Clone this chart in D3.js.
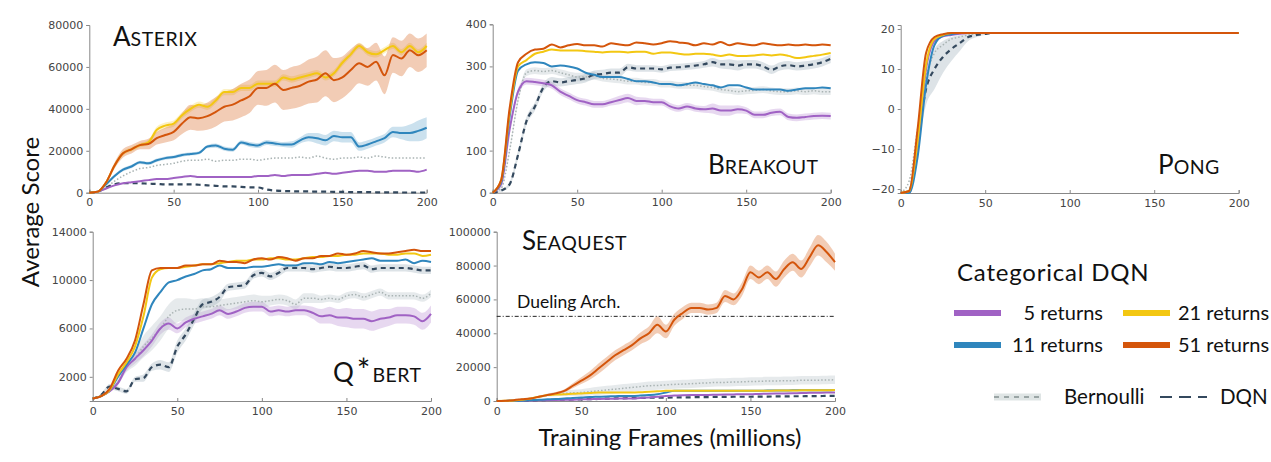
<!DOCTYPE html>
<html>
<head>
<meta charset="utf-8">
<script src="https://cdn.jsdelivr.net/npm/d3@7"></script>
<style>
  body { margin: 0; background: #fff; }
  svg { display: block; }
  .tick text { font-family: "DejaVu Sans", sans-serif; font-size: 11px; fill: #444; }
  .domain, .tick line { stroke: #888; }
  .big { font-family: Lato, "Open Sans", sans-serif; fill: #111; }
</style>
</head>
<body>
<svg id="chart" width="1271" height="462"></svg>
<script>
// training frames (millions), one sample every 5M
const frames = [0,5,10,15,20,25,30,35,40,45,50,55,60,65,70,75,80,85,90,95,100,105,110,115,120,125,130,135,140,145,150,155,160,165,170,175,180,185,190,195,200];
const xTicks = [0,50,100,150,200];

// ASTERIX
const asterix5 = [0,500,2000,3500,4500,5000,5500,6000,6500,6500,7000,7500,8000,7500,7500,7500,7500,7500,7500,7500,8000,8000,8500,8000,8500,8500,8500,9000,9500,9000,9500,10000,10500,10500,10000,10000,10500,10500,10500,10000,11000];
const asterix11 = [0,500,4000,8000,11000,12500,14500,14000,15500,16500,17000,18000,18500,19000,22000,22500,21000,20500,24000,23000,22500,24000,23500,23000,23000,25000,26500,26000,25000,27000,26500,26500,22000,23000,24500,26000,29000,28500,28500,29500,31000];
const asterix21 = [0,500,5000,13000,18800,20700,22700,24000,30000,32000,33000,37000,40000,42000,41000,44000,48000,48000,50000,50000,52000,52000,52000,55000,54000,55000,56000,57000,55000,57000,62000,66000,70000,67000,66000,68000,70000,67000,70000,67000,70000];
const asterix51 = [0,500,5000,13000,18800,20700,22700,23200,26000,27500,29000,33000,36000,35500,36500,38600,41000,42000,44000,46000,50000,50000,52000,49000,50000,51000,53000,54000,57000,53700,55000,58500,61700,60000,62500,56000,65700,64000,68000,65600,68000];
const asterixBern = [0,300,2500,5500,8000,10000,11500,12000,13000,13500,14000,15000,15500,15500,16000,15000,15500,15500,16000,16000,15500,16000,16500,16500,16500,17000,16500,17500,16500,16000,16500,16500,17000,16500,17500,17000,16500,16500,16500,16500,16500];
const asterixDqn = [0,500,2500,4000,4500,4500,4500,4300,4200,4000,4000,4000,4000,3800,3500,3300,3000,3000,2800,2500,2500,1500,1000,800,700,600,600,500,500,400,400,300,300,300,200,200,200,100,100,100,100];
const asterix11Band = [0,200,500,800,800,800,800,800,800,800,800,800,800,800,800,1000,1000,1000,1000,1200,1200,1200,1200,1200,1500,1500,2000,2500,2500,2500,2500,2500,2000,2000,2000,2000,2500,3000,4000,5000,5000];
const asterix21Band = [0,200,500,800,1000,1000,1000,1200,1500,1500,1500,1500,1500,1500,1500,1500,1500,1500,1500,1500,1500,1500,1500,1500,1500,1500,1500,1500,1500,1500,1500,1500,1500,1500,1500,1500,1500,1500,1500,1500,1500];
const asterix51Band = [0,300,800,1500,2000,2000,2000,2500,3000,3500,4000,5000,6000,6000,6500,7000,7000,7500,8000,8000,8000,8500,9000,9500,10000,10000,10500,11000,11000,10500,10000,10000,9500,9000,9000,9000,8500,8500,8000,8000,8000];

// BREAKOUT
const breakout5 = [0,20,150,240,265,263,260,255,240,230,220,215,210,210,215,220,225,218,218,215,215,205,200,205,200,198,200,195,195,198,195,185,185,190,192,180,178,180,182,183,182];
const breakout11 = [0,25,180,290,305,310,308,300,302,300,295,285,280,275,275,275,270,265,265,262,258,258,255,258,262,258,255,250,255,255,250,245,245,245,245,242,245,248,248,250,248];
const breakout21 = [0,30,190,300,315,330,335,340,338,338,338,336,335,333,335,335,333,335,335,330,333,333,330,328,330,330,328,325,328,325,325,326,328,326,328,325,320,322,325,328,332];
const breakout51 = [0,30,200,310,330,340,342,352,345,350,353,350,350,347,355,352,350,357,355,352,355,360,357,355,350,355,352,358,350,355,352,350,355,352,350,352,350,352,350,352,350];
const breakoutBern = [0,10,100,220,285,290,288,290,285,280,275,275,278,272,270,268,265,265,262,262,258,258,255,255,255,252,250,245,243,240,242,243,245,242,240,240,242,240,242,240,240];
const breakoutDqn = [0,5,20,90,170,205,250,265,262,265,268,272,280,282,285,285,298,295,295,295,293,297,298,300,302,305,310,305,305,302,305,305,300,292,300,303,300,302,305,310,318];
const breakout5Band = [0,2,5,8,8,8,8,8,8,8,8,8,8,8,8,10,10,10,8,8,8,8,8,8,8,8,12,12,12,10,8,8,8,8,8,8,8,8,8,8,8];
const breakoutBernBand = [0,2,5,8,8,8,8,8,8,8,10,10,10,8,8,8,8,8,8,8,8,8,8,8,8,8,8,8,8,8,8,8,8,8,8,8,8,8,8,8,8];
const breakoutDqnBand = [0,2,5,10,10,10,10,10,10,10,10,10,10,10,10,10,8,8,8,8,8,8,8,8,8,8,10,10,12,12,10,10,10,10,10,10,10,10,10,10,10];

// PONG
const pong5 = [-21,-21,-9,10,17,18.2,18.5,18.8,19,19,19,19,19,19,19,19,19,19,19,19,19,19,19,19,19,19,19,19,19,19,19,19,19,19,19,19,19,19,19,19,19];
const pong11 = [-21,-21,-12,6,16,18.3,18.7,19,19,19,19,19,19,19,19,19,19,19,19,19,19,19,19,19,19,19,19,19,19,19,19,19,19,19,19,19,19,19,19,19,19];
const pong21 = [-21,-20.5,-8,11,17.5,18.5,19,19,19,19,19,19,19,19,19,19,19,19,19,19,19,19,19,19,19,19,19,19,19,19,19,19,19,19,19,19,19,19,19,19,19];
const pong51 = [-21,-20.5,-5,14,18,18.7,19,19,19,19,19,19,19,19,19,19,19,19,19,19,19,19,19,19,19,19,19,19,19,19,19,19,19,19,19,19,19,19,19,19,19];
const pongBern = [-21,-18,-5,8,14,16,17.5,18,18.5,18.8,19,19,19,19,19,19,19,19,19,19,19,19,19,19,19,19,19,19,19,19,19,19,19,19,19,19,19,19,19,19,19];
const pongDqn = [-21,-20.5,-8,5,10,13,15,16.5,18,18.5,18.8,19,19,19,19,19,19,19,19,19,19,19,19,19,19,19,19,19,19,19,19,19,19,19,19,19,19,19,19,19,19];
const pongDqnBand = [0,0.3,2,4,5,4,3,2,1,0.5,0.3,0.2,0.2,0.2,0.2,0.2,0.2,0.2,0.2,0.2,0.2,0.2,0.2,0.2,0.2,0.2,0.2,0.2,0.2,0.2,0.2,0.2,0.2,0.2,0.2,0.2,0.2,0.2,0.2,0.2,0.2];

// Q*BERT
const qbert5 = [200,400,800,1500,2800,3500,4200,5000,6000,6400,6000,6500,6800,7000,7200,7500,7200,7400,7700,7800,7800,7400,7500,7400,7500,7500,7300,7000,7100,6900,6900,6800,6800,6600,6800,6900,7100,7100,7000,6600,7200];
const qbert11 = [200,400,900,2000,3000,4000,6000,8000,9000,9800,10000,10300,10500,10800,10900,11200,11000,11000,11000,11100,11100,11200,11300,11200,11200,11400,11400,11300,11500,11400,11500,11600,11700,11800,11600,11600,11600,11700,11400,11600,11500];
const qbert21 = [200,400,900,2200,3200,4500,7000,10200,10900,11000,11000,11100,11200,11300,11300,11400,11500,11600,11600,11700,11700,11800,11800,11700,11700,11800,11900,11900,12000,12000,12100,12100,12200,12200,12200,12100,12100,12200,12200,12000,12100];
const qbert51 = [200,400,1000,2500,3500,5000,8000,10800,11000,11000,11000,11200,11200,11300,11300,11600,11500,11500,11400,11700,11800,11700,11900,11800,11600,11800,11800,12000,12000,12200,12100,12200,12400,12300,12200,12200,12300,12400,12500,12400,12400];
const qbertBern = [200,400,800,1600,2800,3500,4500,5200,6000,7000,7500,7600,7600,7800,7800,7900,8000,8100,8200,8300,8200,8300,8400,8300,8000,8500,8500,8400,8500,8400,8700,8800,8600,8800,9000,8700,8700,8700,8700,8500,8900];
const qbertDqn = [200,500,1200,1000,800,1800,1900,2800,3000,2800,4500,5500,6800,8000,8200,8600,9400,9500,9600,10400,10600,10300,10600,11000,11000,11000,10900,11000,11100,11000,11000,11100,11200,10900,11000,11000,11000,11000,10900,10800,10800];
const qbert5Band = [0,50,100,200,300,400,500,500,500,500,400,400,400,400,400,400,400,400,400,400,400,400,400,400,400,400,500,600,700,700,800,800,800,800,800,700,700,700,700,700,700];
const qbertBernBand = [0,50,100,200,400,600,900,1000,1000,1000,1000,900,800,700,600,500,500,500,500,500,500,400,400,400,400,400,400,300,300,300,300,300,300,300,300,300,300,300,300,300,300];
const qbertDqnBand = [0,100,200,200,200,200,300,300,400,400,500,500,500,400,400,400,300,300,300,300,300,300,300,300,300,300,300,300,300,300,300,300,300,300,300,300,300,300,300,300,300];

// SEAQUEST
const seaquest5 = [0,50,100,200,300,400,500,600,700,800,1000,1100,1200,1300,1400,1500,1500,1800,2000,2500,3000,3200,3400,3500,3500,3600,3700,3800,3900,4000,4000,4200,4300,4400,4500,4600,4700,4800,4900,5000,5000];
const seaquest11 = [0,50,100,200,500,800,1000,1200,1500,1800,2000,2300,2500,2700,2800,3000,3000,3200,3500,4000,5000,6000,6000,6000,6000,6000,6000,6000,6000,6000,6000,6000,6200,6200,6200,6300,6300,6300,6400,6400,6500];
const seaquest21 = [0,100,300,700,1500,2500,3500,3800,4000,4300,4500,4700,5000,5000,5000,5000,5000,5200,5500,5700,6000,6000,6000,6000,6000,6000,6000,6000,6000,6000,6000,6000,6000,6200,6200,6200,6300,6300,6400,6400,6500];
const seaquest51 = [0,200,500,1000,1500,2500,3500,4500,6000,9000,12000,15000,19000,23000,27000,30000,33000,37000,40000,45000,41000,48000,52000,55000,55000,54000,55000,62000,60000,66000,76000,73000,76000,72000,78000,82000,78000,85000,92000,88000,82000];
const seaquestBern = [0,200,500,1000,1500,2500,3500,4000,4500,4800,5000,5500,6000,6500,7000,7500,8000,8500,9000,9200,9500,9800,10000,10200,10500,10700,11000,11000,11200,11300,11500,11600,11800,11800,12000,12000,12200,12200,12300,12400,12500];
const seaquestDqn = [0,0,100,200,300,500,600,700,800,900,1000,1100,1200,1400,1500,1600,1700,1800,1900,2000,2000,2100,2200,2200,2300,2300,2400,2400,2500,2500,2500,2600,2600,2700,2700,2800,2800,2900,2900,3000,3000];
const seaquest51Band = [0,100,200,300,400,500,600,800,1000,1500,2000,2500,3000,3000,3000,3000,3000,3500,4000,5000,4000,3500,3500,3000,3000,3000,3000,3500,3500,4000,4000,4000,4000,4500,5000,5000,5000,5500,6000,6000,5000];
const seaquestBernBand = [0,100,200,400,600,800,1000,1200,1500,1800,2000,2200,2400,2500,2500,2500,2500,2500,2500,2500,2500,2500,2500,2500,2500,2500,2500,2500,2500,2500,2500,2500,2500,2500,2500,2500,2500,2500,2500,2500,2500];
const duelingScore = 50000;

// legend
const returnLabels = ["5 returns", "11 returns", "21 returns", "51 returns"];

const colors = {c5: "#a062c4", c11: "#2f86bd", c21: "#f3c712", c51: "#d4550b", bern: "#a9b3b3", dqn: "#34495e"};

const svg = d3.select("#chart");

const panels = [
  {name: "asterix", x: [89.3, 426.7], y: [192.7, 25], dom: [0, 80000], ticks: [0,20000,40000,60000,80000],
   s: {c5: asterix5, c11: asterix11, c21: asterix21, c51: asterix51, bern: asterixBern, dqn: asterixDqn},
   b: {c11: asterix11Band, c21: asterix21Band, c51: asterix51Band},
   title: {x: 113, y: 46, big: "A", small: "STERIX"}},
  {name: "breakout", x: [492.7, 830.7], y: [192.7, 24.3], dom: [0, 400], ticks: [0,100,200,300,400],
   s: {c5: breakout5, c11: breakout11, c21: breakout21, c51: breakout51, bern: breakoutBern, dqn: breakoutDqn},
   b: {c5: breakout5Band, bern: breakoutBernBand, dqn: breakoutDqnBand},
   title: {x: 708, y: 174, big: "B", small: "REAKOUT"}},
  {name: "pong", x: [900.7, 1238.7], y: [193, 25], dom: [-21, 21], ticks: [-20,-10,0,10,20],
   s: {c5: pong5, c11: pong11, c21: pong21, c51: pong51, bern: pongBern, dqn: pongDqn},
   b: {dqn: pongDqnBand},
   title: {x: 1158, y: 174, big: "P", small: "ONG"}},
  {name: "qbert", x: [92.7, 431], y: [401, 231.7], dom: [0, 14000], ticks: [2000,6000,10000,14000],
   s: {c5: qbert5, c11: qbert11, c21: qbert21, c51: qbert51, bern: qbertBern, dqn: qbertDqn},
   b: {c5: qbert5Band, bern: qbertBernBand, dqn: qbertDqnBand},
   title: {x: 333, y: 382, big: "Q", star: true, small: "BERT"}},
  {name: "seaquest", x: [496.7, 835], y: [401, 231.7], dom: [0, 100000], ticks: [0,20000,40000,60000,80000,100000],
   s: {c5: seaquest5, c11: seaquest11, c21: seaquest21, c51: seaquest51, bern: seaquestBern, dqn: seaquestDqn},
   b: {c51: seaquest51Band, bern: seaquestBernBand},
   title: {x: 522, y: 250, big: "S", small: "EAQUEST"}, dueling: duelingScore}
];

const order = ["bern", "dqn", "c5", "c11", "c21", "c51"];
const bandOpacity = {c5: 0.25, c11: 0.25, c21: 0.25, c51: 0.3, bern: 0.35, dqn: 0.35};
const bandColor = {bern: "#b8c4c8", dqn: "#9fb0ba"};

panels.forEach(p => {
  const x = d3.scaleLinear().domain([0, 200]).range(p.x);
  const y = d3.scaleLinear().domain(p.dom).range(p.y);
  const g = svg.append("g").attr("class", p.name);

  // shaded bands
  Object.keys(p.b).forEach(k => {
    const vals = p.s[k], band = p.b[k];
    const area = d3.area()
      .x((d, i) => x(frames[i]))
      .y0((d, i) => y(vals[i] - band[i]))
      .y1((d, i) => y(vals[i] + band[i]))
      .curve(d3.curveMonotoneX);
    g.append("path")
      .attr("d", area(vals))
      .attr("fill", bandColor[k] || colors[k])
      .attr("fill-opacity", bandOpacity[k]);
  });

  // axes
  g.append("g")
    .attr("transform", `translate(${p.x[0]},0)`)
    .call(d3.axisLeft(y).tickValues(p.ticks).tickSize(3).tickPadding(3).tickFormat(d => d < 0 ? "\u2212" + Math.abs(d) : d));
  g.append("g")
    .attr("transform", `translate(0,${p.y[0]})`)
    .call(d3.axisBottom(x).tickValues(xTicks).tickSize(-3).tickPadding(6));

  if (p.dueling) {
    g.append("line")
      .attr("x1", x(0)).attr("x2", x(200))
      .attr("y1", y(p.dueling)).attr("y2", y(p.dueling))
      .attr("stroke", "#222").attr("stroke-width", 1)
      .attr("stroke-dasharray", "4,2,1,2");
    g.append("text").attr("class", "big")
      .attr("x", 517).attr("y", y(p.dueling) - 8)
      .attr("font-size", 17.5)
      .text("Dueling Arch.");
  }

  // lines
  order.forEach(k => {
    const line = d3.line()
      .x((d, i) => x(frames[i]))
      .y(d => y(d))
      .curve(d3.curveMonotoneX);
    const path = g.append("path")
      .attr("d", line(p.s[k]))
      .attr("fill", "none")
      .attr("stroke", colors[k]);
    if (k === "bern") path.attr("stroke-width", 1.5).attr("stroke-dasharray", "1.5,2");
    else if (k === "dqn") path.attr("stroke-width", 2.2).attr("stroke-dasharray", "5,4");
    else path.attr("stroke-width", 2);
  });

  // game title in small caps
  const t = svg.append("text").attr("class", "big")
    .attr("x", p.title.x).attr("y", p.title.y);
  t.append("tspan").attr("font-size", 26).text(p.title.big);
  if (p.title.star) t.append("tspan").attr("font-size", 32).attr("dy", 0).attr("dx", 3).text("*");
  t.append("tspan").attr("font-size", 19.5).attr("letter-spacing", 0.5)
    .attr("dy", 0).attr("dx", p.title.star ? 2 : 0).text(p.title.small);
});

// shared axis labels
svg.append("text").attr("class", "big")
  .attr("transform", "translate(39,212) rotate(-90)")
  .attr("text-anchor", "middle").attr("font-size", 24)
  .text("Average Score");
svg.append("text").attr("class", "big")
  .attr("x", 670).attr("y", 446)
  .attr("text-anchor", "middle").attr("font-size", 24)
  .text("Training Frames (millions)");

// legend
const legend = svg.append("g").attr("class", "legend");
legend.append("text").attr("class", "big")
  .attr("x", 957).attr("y", 281).attr("font-size", 24).attr("letter-spacing", 0.8)
  .text("Categorical DQN");

const legendKeys = ["c5", "c11", "c21", "c51"];
const items = legend.selectAll(".item")
  .data(legendKeys)
  .enter().append("g")
  .attr("transform", (d, i) => `translate(${i < 2 ? 954 : 1123},${i % 2 === 0 ? 313 : 345})`);
items.append("line")
  .attr("x1", 0).attr("x2", 47)
  .attr("stroke", d => colors[d]).attr("stroke-width", 6);
items.append("text").attr("class", "big")
  .attr("x", (d, i) => i < 2 ? 149 : 55).attr("y", 7)
  .attr("text-anchor", (d, i) => i < 2 ? "end" : "start")
  .attr("font-size", 20)
  .text((d, i) => returnLabels[i]);

const baseItems = legend.selectAll(".base")
  .data(["bern", "dqn"])
  .enter().append("g")
  .attr("transform", (d, i) => `translate(${i === 0 ? 994 : 1160},397)`);
baseItems.filter(d => d === "bern").append("line")
  .attr("x1", 0).attr("x2", 47)
  .attr("stroke", "#dfe5e5").attr("stroke-width", 7);
baseItems.append("line")
  .attr("x1", 0).attr("x2", 47)
  .attr("stroke", d => d === "bern" ? "#9aa5a5" : colors.dqn)
  .attr("stroke-width", 2)
  .attr("stroke-dasharray", d => d === "bern" ? "5,5" : "12,7");
baseItems.append("text").attr("class", "big")
  .attr("x", (d, i) => i === 0 ? 70 : 60).attr("y", 7).attr("font-size", 20.5)
  .text(d => d === "bern" ? "Bernoulli" : "DQN");
</script>
</body>
</html>
